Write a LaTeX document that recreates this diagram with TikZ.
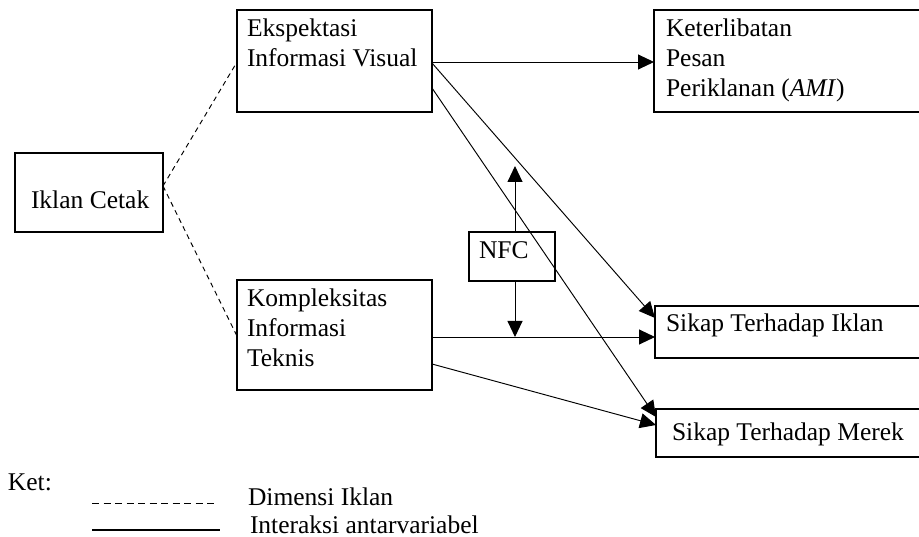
\documentclass[tikz,border=0pt]{standalone}
\usepackage{fontspec}
\setmainfont{Liberation Serif}
\usetikzlibrary{arrows.meta,calc}
\begin{document}
\begin{tikzpicture}[x=1pt,y=-1pt,
  box/.style={draw,line width=1.2pt,inner sep=0pt,outer sep=0pt,anchor=north west},
  txt/.style={inner sep=0pt,outer sep=0pt,anchor=base west,font=\fontsize{25.5}{30}\selectfont},
  mtxt/.style={inner sep=0pt,outer sep=0pt,anchor=north west,align=left,font=\fontsize{25.5}{30}\selectfont},
  conn/.style={line width=0.95pt},
  arr/.style={conn,-{Triangle[length=16pt,width=15pt]}},
  dimline/.style={line width=0.95pt,dash pattern=on 5pt off 4pt}]
\useasboundingbox (0,0) rectangle (919,537);
\clip (0,0) rectangle (919,537);

% boxes
\node[box,minimum width=148pt,minimum height=79pt] (ic) at (15,153) {};
\node[box,minimum width=195pt,minimum height=102pt] (ekp) at (237,10) {};
\node[box,minimum width=195pt,minimum height=110pt] (kom) at (237,280) {};
\node[box,minimum width=280pt,minimum height=102pt] (ket) at (654,10) {};
\node[box,minimum width=86pt,minimum height=49pt] (nfc) at (469,232) {};
\node[box,minimum width=280pt,minimum height=52pt] (sti) at (655,306) {};
\node[box,minimum width=280pt,minimum height=48pt] (stm) at (656,409) {};

% texts
\node[txt] (ictxt) at ([xshift=16pt,yshift=-56pt]ic.north west) {Iklan Cetak};
\node[mtxt] (ekptxt) at ([xshift=10pt]ekp.north west) {\vrule height 26.7pt width 0pt Ekspektasi\\Informasi Visual};
\node[mtxt] (komtxt) at ([xshift=10pt]kom.north west) {\vrule height 26.7pt width 0pt Kompleksitas\\Informasi\\Teknis};
\node[mtxt] (kettxt) at ([xshift=12pt]ket.north west) {\vrule height 26.7pt width 0pt Keterlibatan\\Pesan\\Periklanan (\textit{AMI})};
\node[txt] (nfctxt) at ([xshift=10pt,yshift=-27pt]nfc.north west) {NFC};
\node[txt] (stitxt) at ([xshift=11pt,yshift=-26pt]sti.north west) {Sikap Terhadap Iklan};
\node[txt] (stmtxt) at ([xshift=16pt,yshift=-31pt]stm.north west) {Sikap Terhadap Merek};

% dashed dimension lines
\coordinate (icr) at ([yshift=-33pt]ic.north east);
\draw[dimline] (icr) -- ([yshift=-52pt]ekp.north west);
\draw[dimline] (icr) -- ([yshift=-56pt]kom.north west);

% arrows
\draw[arr] ([yshift=-52pt]ekp.north east) -- ([yshift=-52pt]ket.north west);
\draw[arr] ([yshift=-53pt]ekp.north east) -- ([yshift=-12pt]sti.north west);
\draw[arr] ([yshift=-78pt]ekp.north east) -- ([yshift=-8pt]stm.north west);
\coordinate (hline) at ([yshift=-57pt]kom.north east);
\draw[arr] (hline) -- ([yshift=-31pt]sti.north west);
\draw[arr] ([yshift=-84pt]kom.north east) -- ([yshift=-16pt]stm.north west);

% NFC moderation arrows
\coordinate (nfcn) at ([xshift=3pt]nfc.north);
\coordinate (nfcs) at ([xshift=3pt]nfc.south);
\coordinate (nfcup) at ([yshift=66pt]nfcn);
\coordinate (nfcdn) at (nfcs |- hline);
\draw[arr] (nfcn) -- (nfcup);
\draw[arr] (nfcs) -- (nfcdn);

% legend
\node[txt] (kettitle) at (8,490.7) {Ket:};
\node[txt] (leg1) at (248,505) {Dimensi Iklan};
\node[txt] (leg2) at (250,533) {Interaksi antarvariabel};
\coordinate (l1a) at (92,503.5);
\coordinate (l1b) at (218,503.5);
\coordinate (l2a) at (92,530);
\coordinate (l2b) at (220,530);
\draw[line width=0.95pt,dash pattern=on 7pt off 4.5pt] (l1a) -- (l1b);
\draw[line width=2pt] (l2a) -- (l2b);
\end{tikzpicture}
\end{document}
